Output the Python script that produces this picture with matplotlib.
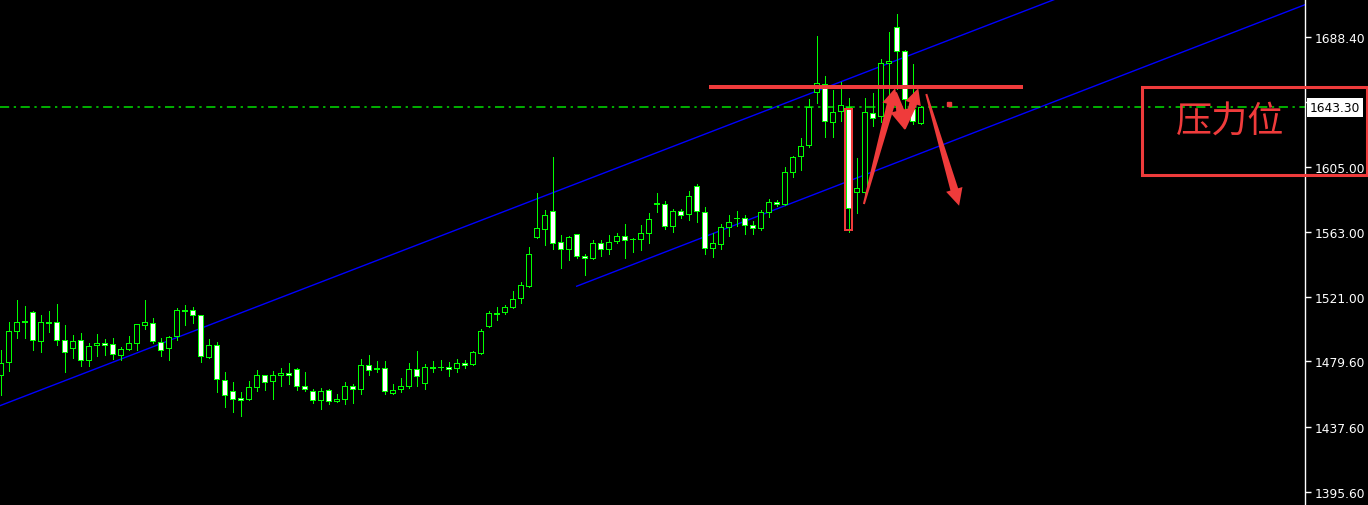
import matplotlib
matplotlib.use('Agg')
import matplotlib.pyplot as plt
from matplotlib.patches import Rectangle, Polygon
from matplotlib.transforms import IdentityTransform
import numpy as np

# K线数据 (开, 高, 低, 收)
opens = [1470.9, 1479.0, 1499.0, 1504.8, 1511.2, 1492.6, 1504.6, 1504.8, 1493.2, 1488.1,
         1493.2, 1480.3, 1490.0, 1491.3, 1490.6, 1483.5, 1487.4, 1491.3, 1502.9, 1504.2,
         1491.9, 1488.1, 1495.8, 1512.7, 1512.5, 1509.4, 1482.3, 1490.0, 1467.5, 1460.4,
         1455.9, 1455.3, 1463.0, 1470.7, 1466.8, 1470.7, 1472.0, 1474.5, 1463.6, 1460.4,
         1454.6, 1461.0, 1454.0, 1455.3, 1463.6, 1461.7, 1477.1, 1475.2, 1475.2, 1459.1,
         1461.7, 1463.6, 1474.5, 1465.6, 1475.5, 1475.8, 1475.8, 1475.2, 1478.4, 1477.8,
         1484.8, 1502.2, 1510.2, 1511.2, 1514.5, 1520.2, 1528.0, 1559.5, 1564.6, 1576.2,
         1556.3, 1551.8, 1561.3, 1547.3, 1546.0, 1555.6, 1551.8, 1556.9, 1560.1, 1558.2,
         1558.2, 1562.1, 1581.2, 1580.7, 1566.6, 1576.2, 1574.3, 1592.3, 1575.6, 1552.4,
         1555.0, 1565.9, 1571.6, 1571.7, 1567.2, 1565.3, 1575.6, 1582.0, 1580.7, 1601.3,
         1611.6, 1619.1, 1652.8, 1658.1, 1633.5, 1640.6, 1643.2, 1588.4, 1588.4, 1639.3,
         1637.4, 1671.5, 1694.6, 1679.2, 1642.1, 1632.9]
highs = [1487.0, 1505.2, 1519.2, 1515.3, 1512.1, 1509.5, 1512.1, 1516.6, 1503.1, 1496.6,
         1497.9, 1491.3, 1497.1, 1493.8, 1494.5, 1488.9, 1495.8, 1503.6, 1518.9, 1507.6,
         1494.5, 1495.8, 1514.0, 1515.9, 1514.6, 1509.5, 1493.8, 1491.9, 1472.6, 1466.2,
         1459.7, 1466.8, 1473.9, 1470.9, 1473.5, 1475.4, 1478.6, 1475.4, 1472.8, 1461.7,
         1462.3, 1461.7, 1458.5, 1466.2, 1464.9, 1481.2, 1483.7, 1479.9, 1479.9, 1464.9,
         1468.8, 1478.6, 1486.3, 1477.8, 1479.9, 1480.5, 1479.3, 1481.2, 1480.3, 1486.0,
         1500.5, 1511.9, 1514.4, 1515.9, 1524.8, 1530.6, 1553.3, 1588.0, 1576.9, 1611.0,
         1560.8, 1560.1, 1561.4, 1548.6, 1557.6, 1557.6, 1560.8, 1562.1, 1567.9, 1558.8,
         1567.2, 1574.9, 1587.8, 1582.7, 1577.5, 1577.5, 1589.1, 1593.6, 1578.8, 1562.1,
         1567.9, 1573.6, 1576.2, 1573.6, 1569.8, 1576.9, 1584.2, 1583.3, 1604.5, 1612.0,
         1623.2, 1648.5, 1688.9, 1663.5, 1654.3, 1659.2, 1649.0, 1610.5, 1649.1, 1652.2,
         1674.3, 1691.4, 1703.2, 1680.2, 1671.0, 1644.2]
lows = [1458.0, 1473.6, 1494.7, 1494.7, 1487.0, 1485.9, 1498.4, 1490.4, 1472.9, 1481.8,
        1476.5, 1476.5, 1482.9, 1483.5, 1481.0, 1480.3, 1486.8, 1486.8, 1500.3, 1491.3,
        1482.9, 1480.3, 1493.2, 1502.9, 1504.2, 1479.0, 1481.6, 1459.7, 1450.1, 1447.3,
        1444.7, 1455.0, 1460.4, 1461.4, 1455.6, 1464.0, 1465.3, 1461.4, 1460.8, 1453.1,
        1449.2, 1452.0, 1453.8, 1452.5, 1453.1, 1458.9, 1470.7, 1472.6, 1458.5, 1458.5,
        1459.7, 1462.3, 1463.6, 1461.7, 1472.6, 1473.9, 1470.0, 1472.6, 1475.2, 1477.1,
        1484.2, 1502.0, 1506.3, 1509.9, 1514.2, 1517.4, 1527.3, 1559.3, 1554.5, 1551.8,
        1539.5, 1545.1, 1546.0, 1535.0, 1545.3, 1547.3, 1548.6, 1555.6, 1546.0, 1549.8,
        1551.1, 1555.6, 1575.6, 1564.6, 1562.7, 1571.7, 1570.4, 1569.2, 1548.6, 1546.6,
        1551.8, 1560.1, 1566.6, 1561.4, 1561.4, 1564.0, 1572.4, 1579.4, 1580.5, 1598.1,
        1603.0, 1617.8, 1646.0, 1624.2, 1623.8, 1634.2, 1562.7, 1574.9, 1585.3, 1631.0,
        1633.5, 1651.7, 1654.9, 1642.1, 1632.4, 1632.4]
closes = [1478.6, 1499.0, 1504.8, 1505.6, 1493.2, 1504.8, 1505.0, 1493.2, 1485.5, 1492.6,
          1480.3, 1489.4, 1491.3, 1490.0, 1484.2, 1487.4, 1491.3, 1503.5, 1504.8, 1492.6,
          1486.8, 1495.1, 1512.5, 1511.9, 1509.3, 1482.9, 1490.0, 1468.1, 1457.8, 1455.3,
          1454.6, 1463.0, 1470.7, 1466.2, 1470.7, 1472.0, 1470.7, 1463.6, 1461.7, 1454.6,
          1460.4, 1454.0, 1455.3, 1463.6, 1461.7, 1477.3, 1473.9, 1475.0, 1460.4, 1461.0,
          1463.6, 1474.5, 1470.0, 1475.8, 1475.7, 1476.0, 1474.5, 1478.4, 1477.1, 1485.7,
          1499.2, 1510.6, 1510.5, 1514.6, 1519.6, 1528.6, 1548.6, 1565.3, 1573.6, 1555.6,
          1551.8, 1559.5, 1547.3, 1546.0, 1555.6, 1551.8, 1556.3, 1560.1, 1557.6, 1558.4,
          1562.1, 1571.1, 1581.5, 1566.6, 1576.2, 1573.6, 1585.9, 1576.2, 1552.4, 1555.6,
          1565.9, 1569.1, 1571.8, 1567.2, 1565.3, 1575.6, 1582.0, 1580.7, 1601.3, 1611.0,
          1618.5, 1643.2, 1658.6, 1634.2, 1639.9, 1644.5, 1578.2, 1591.2, 1639.9, 1636.1,
          1671.5, 1673.2, 1679.2, 1648.5, 1634.2, 1643.3]

# 价格刻度 (1646.70 被当前价标签挡住)
tick_prices = [1395.6, 1437.6, 1479.6, 1521.0, 1563.0, 1605.0, 1646.7, 1688.4]
tick_labels = ['1395.60', '1437.60', '1479.60', '1521.00', '1563.00', '1605.00', '', '1688.40']
last_price = 1643.30

# 通道线 (K线序号, 价格)
upper_line_x = [-0.1, 131.9]
upper_line_y = [1451.1, 1712.9]
lower_line_x = [72.0, 163.0]
lower_line_y = [1528.0, 1709.1]

# 压力线与标注
resist_x = [88.5, 127.8]
resist_price = 1656.2
box_candle = 106
box_top, box_bottom = 1642.1, 1564.2
arrows = [((107.9, 1580.9), (111.8, 1655.4), 17),
          ((111.9, 1652.8), (113.0, 1628.7), 20),
          ((113.0, 1629.2), (114.7, 1655.4), 16),
          ((115.7, 1651.7), (119.8, 1579.8), 17)]
dot_x, dot_price = 118.5, 1645.3
label_text = '压力位'

GREEN = '#00ff00'
RED = '#ef3b3b'
PX = 0.72  # 1像素对应的线宽

fig = plt.figure(figsize=(13.68, 5.06), dpi=100, facecolor='black')
ax = fig.add_axes([0, 0, 1305 / 1368, 1])
ax.set_facecolor('black')
ax.set_xlim(-0.0875, 163.04)
ax.set_ylim(1387.2, 1712.85)

idx = np.arange(len(opens))
o = np.array(opens); h = np.array(highs); l = np.array(lows); c = np.array(closes)

# 影线
ax.vlines(idx, l, h, colors=GREEN, lw=PX, zorder=2, antialiased=False)
# 实体: 阳线空心(黑), 阴线白色
for i in idx:
    bottom = min(o[i], c[i])
    height = max(abs(c[i] - o[i]), 0.01)
    fc = 'black' if c[i] >= o[i] else 'white'
    ax.add_patch(Rectangle((i - 0.3, bottom), 0.6, height, facecolor=fc,
                           edgecolor=GREEN, lw=PX, zorder=3, antialiased=False))

# 通道线
ax.plot(upper_line_x, upper_line_y, color='#0000ff', lw=1.0, zorder=1)
ax.plot(lower_line_x, lower_line_y, color='#0000ff', lw=1.0, zorder=1)

# 当前价虚线
ax.axhline(last_price, color='#00e000', lw=1.1, ls=(0, (6, 3, 1.5, 3)), zorder=1)

# 压力线
ax.plot(resist_x, [resist_price, resist_price], color=RED, lw=4 * PX, zorder=5,
        solid_capstyle='butt')
ax.add_patch(Rectangle((box_candle - 0.4, box_bottom), 0.8, box_top - box_bottom,
                       fill=False, edgecolor=RED, lw=2 * PX, zorder=5))
ax.plot([dot_x], [dot_price], marker='s', ms=3, color=RED, zorder=5)


def draw_arrow(start, end, head_w):
    p0 = ax.transData.transform(start)
    p1 = ax.transData.transform(end)
    d = p1 - p0
    u = d / np.hypot(*d)
    n = np.array([-u[1], u[0]])
    neck = p1 - u * head_w
    pts = [p0 + n * 1.0, neck + n * 4.0, neck + n * head_w / 2, p1,
           neck - n * head_w / 2, neck - n * 4.0, p0 - n * 1.0]
    ax.add_patch(Polygon(pts, closed=True, facecolor=RED, edgecolor='none',
                         transform=IdentityTransform(), zorder=6))


for s, e, w in arrows:
    draw_arrow(s, e, w)

# 坐标轴
for side in ['left', 'top', 'bottom']:
    ax.spines[side].set_visible(False)
ax.spines['right'].set_color('white')
ax.spines['right'].set_linewidth(1.0)
ax.set_xticks([])
ax.yaxis.tick_right()
ax.set_yticks(tick_prices)
ax.set_yticklabels(tick_labels)
ax.tick_params(axis='y', colors='white', length=4, width=1.0, pad=3, labelsize=8.8)

# 当前价标签
ax.text(1.0035, last_price, '%.2f' % last_price, transform=ax.get_yaxis_transform(),
        ha='left', va='center', fontsize=8.8, color='black', clip_on=False, zorder=10,
        bbox=dict(facecolor='white', edgecolor='none', pad=2.2))

# 右侧红框与文字
fig.add_artist(Rectangle((1142 / 1368, 1 - 176 / 506), 225 / 1368, 88 / 506,
                         transform=fig.transFigure, fill=False, edgecolor=RED, lw=2.2))
fig.text(1230 / 1368, 1 - 123 / 506, label_text, ha='center', va='center', fontsize=26,
         color=RED, family=['Noto Sans CJK SC', 'DejaVu Sans'])

fig.savefig('out.png', dpi=100, facecolor='black')
